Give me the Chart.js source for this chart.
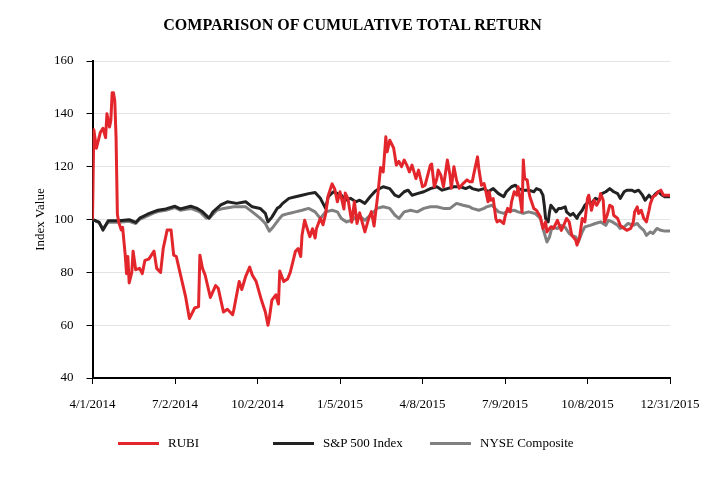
<!DOCTYPE html>
<html>
<head>
<meta charset="utf-8">
<script src="https://cdn.jsdelivr.net/npm/chart.js@4.4.1/dist/chart.umd.min.js"></script>
<style>
  html, body { margin: 0; padding: 0; background: #fff; }
  #wrap { position: relative; width: 705px; height: 480px; font-family: "Liberation Serif", "Times New Roman", serif; }
  #title { position: absolute; left: 0; top: 17px; width: 705px; text-align: center; font-size: 16px; font-weight: bold; line-height: 16px; color: #000; }
  .leg { position: absolute; top: 435px; height: 16px; line-height: 16px; font-size: 13px; color: #000; }
  .leg i { position: absolute; top: 7px; height: 3px; width: 41px; }
</style>
</head>
<body>
<div id="wrap">
  <canvas id="chart"></canvas>
  <div id="title">COMPARISON OF CUMULATIVE TOTAL RETURN</div>
  <div id="legend"></div>
</div>
<script>
// trading days since 4/1/2014, tick every 63 days
const tickLabels = ['4/1/2014', '7/2/2014', '10/2/2014', '1/5/2015', '4/8/2015', '7/9/2015', '10/8/2015', '12/31/2015'];
const seriesNames = ['RUBI', 'S&P 500 Index', 'NYSE Composite'];
const seriesColors = ['#e3262b', '#222222', '#808080'];

const rubiDay = [0,1,3,6,8,10,11,13,14,15,16,17,18,19,20,22,23,25,26,27,28,30,31,33,36,38,40,43,47,49,52,54,57,60,62,64,67,71,74,78,81,82,84,86,90,94,96,98,100,103,105,107,108,112,114,117,120,122,125,129,132,134,135,137,140,142,143,146,149,151,153,155,157,159,160,162,164,166,168,170,171,174,176,178,180,183,185,187,189,192,193,195,198,200,202,204,208,211,213,215,218,220,222,224,225,227,229,230,232,234,236,238,240,242,244,247,249,252,254,258,259,261,263,264,266,268,271,273,274,276,278,280,283,286,288,290,291,294,295,297,299,300,302,303,304,306,308,309,311,314,315,317,319,320,322,324,325,327,328,329,330,332,333,334,337,339,342,344,346,347,350,352,355,358,360,362,364,366,369,370,372,374,376,378,379,381,383,385,387,388,390,391,393,395,397,398,401,403,406,408,411,413,414,416,417,419,421,423,425,426,428,430,432,434,436,441];
const rubiValue = [100,134,127,133,134.5,131,140,135,137.5,148,148,145,131,102,99,96,97,86.5,79.5,86,76,80,88,81,81.5,79.5,84.5,85,88,81.5,80,89,96,96,86.5,86,79.5,71,62.5,66.5,67,86.5,81.5,79,70.5,75,74,69.5,65,66,65,64,66,76.5,73.5,78.5,82,79,76.5,69.5,65,60,62.5,69.5,71.5,68,80.5,76.5,77.5,80,84,88,89,86,94,99.7,96.5,93.5,96.5,93,96.5,100.5,98,102,109,113.5,111.5,106.7,110.5,104,110,108,99,106.7,98.5,102.5,95.3,100.5,103,97.5,110,119.7,118,131.3,125.6,130,128,127,120.6,122,120,122.5,120.6,118,120.6,115.5,118.7,112.4,113,120.6,121,112.4,115.5,118.7,116.8,112.4,122.5,116.8,111.8,120,114.9,111.8,113.6,115,114.3,114.3,116.8,123.7,119.3,113,113.6,111.7,106.7,110.5,107.3,107.9,100.4,99.1,99.7,98.5,101,104.2,102.9,106.7,110.5,109.2,112.4,106.7,102.9,122.5,115.5,114.9,111.1,108.6,104.2,103.5,101,96.6,99.1,95.3,97.2,96.6,99.7,95.9,98,100.4,99.1,94,92.2,90.3,93.4,100.4,99.1,108,109.2,103.5,107.3,105.4,107.3,109.8,107.3,99.1,101.6,105.4,104.8,101.6,100.4,97.8,96.6,95.9,96.6,99.1,102.9,104.8,102.3,103.5,100.4,99.1,103.5,106,108.6,109.2,110.5,111.1,109.2,109.2];

const spDay = [0,5,8,12,20,28,33,36,42,47,50,56,63,67,75,80,84,89,92,98,103,110,117,122,128,132,134,137,141,143,145,150,155,160,165,170,174,178,180,184,190,193,197,201,204,208,212,216,217,222,227,231,234,238,241,244,248,253,258,263,267,271,276,281,285,288,290,295,299,302,306,310,314,316,320,323,325,329,333,337,339,342,344,345,346,348,349,350,352,354,356,358,361,362,365,367,370,371,374,376,379,381,384,387,389,392,395,398,401,403,406,408,412,414,417,420,422,425,427,430,432,435,437,441];
const spValue = [100,99,96,99.5,99.5,99.9,98.9,100.5,102,103,103.5,104,105,104,105,104.2,102.9,100.5,102.9,105.5,106.7,106.1,106.7,104.8,104.2,102.3,99.1,100.9,104.2,104.8,106,108,108.6,109.2,109.8,110.2,108,104.2,108.6,110.5,109.2,107.3,108,106.7,107.3,106.1,108.6,110.8,111.1,112.4,111.7,109.2,108.6,110.5,111.1,109.2,109.8,110.5,111.7,112.4,111.1,111.7,112.4,112.4,111.7,112.4,111.7,111.1,111.7,110.5,111.7,109.8,108.6,110.5,112.4,113,111.7,111.1,111.1,110.5,111.7,111.1,109.2,105.4,100.4,99.1,102.9,105.4,104.2,102.9,104.2,104.2,104.8,102.9,101.6,102.3,100.4,101.6,103.5,105.4,106.7,106.1,108,107.3,109.8,110.5,111.7,110.5,109.8,108,110.5,111.1,111.1,110.5,111.1,109.2,107.3,109.2,108,109.8,110.5,109.2,108.6,108.6];

const nyseDay = [0,5,8,12,20,28,33,36,42,47,50,56,63,67,75,82,87,90,95,100,108,117,122,128,132,135,138,143,145,150,155,160,165,170,174,178,183,187,190,194,198,203,208,212,216,217,222,227,231,234,238,243,248,253,258,263,268,273,278,283,288,290,295,299,301,305,310,314,316,322,325,329,333,338,342,344,347,349,351,355,358,361,364,366,369,371,374,376,380,384,388,392,394,397,401,403,406,409,413,416,418,421,423,426,428,431,434,437,441];
const nyseValue = [100,98.8,96.5,99,99,99.3,98.5,100,101.4,102.5,103,103.5,104.5,103.5,104.2,102.9,100.5,101,103.5,104.2,104.8,104.8,102.9,100.5,98.5,95.6,97.2,100.5,101.6,102.3,102.9,103.5,104.2,102.9,100.4,102.9,103.5,102.9,100.4,99.1,99.7,101.6,99.7,101.6,103.5,104.2,104.8,104.2,101.6,100.4,102.9,103.5,102.9,104.2,104.8,104.8,104.2,104.2,106.1,105.4,104.8,104.2,103.5,104.2,104.8,105.4,102.9,102.3,102.9,103.5,102.9,102.3,102.9,102.3,100.4,96.6,91.5,93.4,97.2,96.6,97.8,97,94.7,94,93.4,91.5,95.3,97.2,97.8,98.5,99.1,97.8,99.7,99.1,97.8,96.6,97.2,98.5,97.8,98.5,97.2,95.9,94,95.3,94.7,96.6,95.9,95.6,95.6];

const toPoints = (days, vals) => days.map((d, i) => ({ x: d, y: vals[i] }));
const seriesPoints = [toPoints(rubiDay, rubiValue), toPoints(spDay, spValue), toPoints(nyseDay, nyseValue)];

const font = { family: '"Liberation Serif", "Times New Roman", serif', size: 13 };

new Chart(document.getElementById('chart'), {
    type: 'line',
    data: {
        datasets: seriesNames.map((name, i) => ({
            label: name,
            data: seriesPoints[i],
            borderColor: seriesColors[i],
            backgroundColor: seriesColors[i],
            borderWidth: 3,
            pointRadius: 0,
            tension: 0,
            borderJoinStyle: 'round'
        }))
    },
    options: {
        responsive: true,
        maintainAspectRatio: false,
        animation: false,
        devicePixelRatio: 1,
        layout: { padding: { left: 30.5, right: 35, top: 61, bottom: 72 } },
        plugins: { legend: { display: false }, tooltip: { enabled: false } },
        scales: {
            x: {
                type: 'linear', min: 0, max: 441,
                afterFit: s => { s.height = 30; s.paddingRight = 0; s.paddingLeft = 0; },
                afterBuildTicks: s => { s.ticks = tickLabels.map((_, i) => ({ value: i * 63 })); },
                ticks: { font, color: '#000', padding: 13, maxRotation: 0, autoSkip: false,
                    callback: v => tickLabels[Math.round(v / 63)] },
                grid: { drawOnChartArea: false, drawTicks: true, tickLength: 6, tickColor: '#000' },
                border: { display: true, color: '#000', width: 2 }
            },
            y: {
                min: 40, max: 160,
                afterFit: s => { s.width = 62; },
                ticks: { stepSize: 20, font, color: '#000', padding: 13 },
                grid: { color: '#e3e3e3', lineWidth: 1, tickLength: 6, tickColor: '#000' },
                border: { display: true, color: '#000', width: 2 },
                title: { display: true, text: 'Index Value', font, color: '#000', padding: { top: 2, bottom: 0 } }
            }
        }
    }
});

// legend
const legendPos = [118, 273, 430];
document.getElementById('legend').innerHTML = seriesNames.map((name, i) =>
    `<div class="leg" style="left:${legendPos[i]}px"><i style="left:0;background:${seriesColors[i]}"></i><span style="margin-left:50px">${name.replace('&', '&amp;')}</span></div>`
).join('');
</script>
</body>
</html>
